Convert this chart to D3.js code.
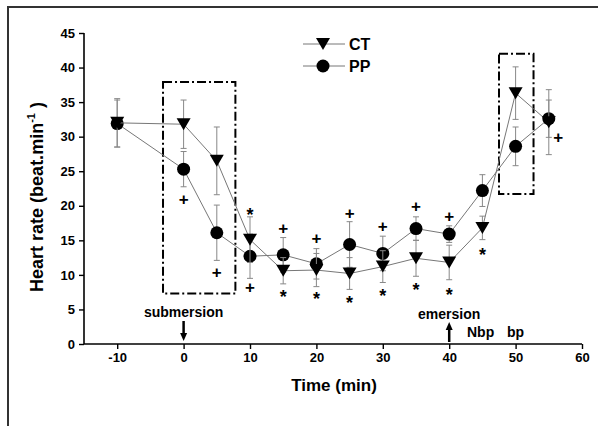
<!DOCTYPE html>
<html>
<head>
<meta charset="utf-8">
<script src="https://cdn.jsdelivr.net/npm/d3@7"></script>
<style>
  body { margin: 0; background: #fff; }
  text { font-family: "Liberation Sans", Arial, sans-serif; font-weight: bold; }
</style>
</head>
<body>
<div id="chart"></div>
<script>
// time points (min)
var times = [-10, 0, 5, 10, 15, 20, 25, 30, 35, 40, 45, 50, 55];

// heart rate, mean and error
var ctMean = [32.0, 31.8, 26.5, 15.1, 10.6, 10.7, 10.2, 11.2, 12.4, 11.8, 16.8, 36.3, 32.1];
var ctErr  = [3.5, 3.5, 4.9, 3.3, 1.9, 2.4, 2.3, 2.3, 2.6, 2.5, 1.7, 3.8, 4.7];
var ppMean = [31.9, 25.3, 16.1, 12.7, 12.9, 11.6, 14.4, 13.1, 16.7, 15.9, 22.2, 28.6, 32.6];
var ppErr  = [3.4, 2.55, 4.0, 3.2, 2.5, 2.2, 3.3, 2.5, 1.7, 1.2, 2.3, 2.8, 2.7];

// significance marks [time, heart rate]
var plusMarks = [[0, 21.0], [5, 10.4], [10, 8.3], [15, 16.8], [20, 15.3], [25, 19.0],
                 [30, 17.0], [35, 20.0], [40, 18.5], [56.4, 29.9]];
var starMarks = [[10, 19.4], [15, 7.5], [20, 7.2], [25, 6.7], [30, 7.7], [35, 8.6],
                 [40, 7.9], [45, 13.6]];

// dash-dot boxes [t0, t1, hr0, hr1]
var boxes = [[-3.1, 7.8, 7.3, 37.9], [47.5, 52.7, 21.7, 42.0]];

var xTicks = [-10, 0, 10, 20, 30, 40, 50, 60];
var yTicks = [0, 5, 10, 15, 20, 25, 30, 35, 40, 45];

var W = 598, H = 426;

var svg = d3.select("#chart").append("svg")
    .attr("width", W)
    .attr("height", H);

svg.append("rect").attr("width", W).attr("height", H).attr("fill", "#fff");

// outer frame (only top and left inside the picture)
svg.append("path")
    .attr("d", "M8," + H + "V7H" + W)
    .attr("fill", "none")
    .attr("stroke", "#333")
    .attr("stroke-width", 2);

var x = d3.scaleLinear().domain([-15, 60]).range([84, 582]);
var y = d3.scaleLinear().domain([0, 45]).range([344, 33]);

// x axis
var xAxis = svg.append("g")
    .attr("transform", "translate(0," + y(0) + ")");
xAxis.call(d3.axisBottom(x).tickValues(d3.range(-15, 61, 5)).tickSize(3).tickFormat(""));
xAxis.call(d3.axisBottom(x).tickValues(xTicks).tickSize(5).tickPadding(4).tickFormat(String))
    .selectAll("text").attr("font-size", 13).attr("fill", "#000");
xAxis.selectAll("path").attr("stroke", "#000").attr("stroke-width", 1.6);
xAxis.selectAll("line").attr("stroke", "#000").attr("stroke-width", 1.4);

// y axis
var yAxis = svg.append("g")
    .attr("transform", "translate(" + x(-15) + ",0)");
yAxis.call(d3.axisLeft(y).tickValues(d3.range(0, 45.1, 2.5)).tickSize(3).tickFormat(""));
yAxis.call(d3.axisLeft(y).tickValues(yTicks).tickSize(5).tickPadding(4).tickFormat(String))
    .selectAll("text").attr("font-size", 13).attr("fill", "#000");
yAxis.selectAll("path").attr("stroke", "#000").attr("stroke-width", 1.6);
yAxis.selectAll("line").attr("stroke", "#000").attr("stroke-width", 1.4);
yAxis.selectAll(".domain").attr("d", "M-0,344V33");
xAxis.selectAll(".domain").attr("d", "M84,0H582");

// axis titles
svg.append("text")
    .attr("x", 334).attr("y", 391)
    .attr("text-anchor", "middle")
    .attr("font-size", 17)
    .text("Time (min)");

var yl = svg.append("text")
    .attr("transform", "translate(43,197) rotate(-90)")
    .attr("text-anchor", "middle")
    .attr("font-size", 18);
yl.append("tspan").text("Heart rate (beat.min");
yl.append("tspan").attr("font-size", 11).attr("dy", -8).text("-1");
yl.append("tspan").attr("dy", 8).text(" )");

// dash-dot boxes
svg.selectAll(".box").data(boxes).enter().append("rect")
    .attr("class", "box")
    .attr("x", function (d) { return x(d[0]); })
    .attr("y", function (d) { return y(d[3]); })
    .attr("width", function (d) { return x(d[1]) - x(d[0]); })
    .attr("height", function (d) { return y(d[2]) - y(d[3]); })
    .attr("fill", "none")
    .attr("stroke", "#000")
    .attr("stroke-width", 2)
    .attr("stroke-dasharray", "9,3,2,3");

function series(mean, err, shape) {
    var pts = times.map(function (t, i) { return { t: t, v: mean[i], e: err[i] }; });
    var g = svg.append("g");

    g.append("path")
        .datum(pts)
        .attr("fill", "none")
        .attr("stroke", "#777")
        .attr("stroke-width", 1)
        .attr("d", d3.line().x(function (d) { return x(d.t); }).y(function (d) { return y(d.v); }));

    var eb = g.selectAll(".err").data(pts).enter().append("g")
        .attr("stroke", "#888")
        .attr("stroke-width", 1);
    eb.append("line")
        .attr("x1", function (d) { return x(d.t); }).attr("x2", function (d) { return x(d.t); })
        .attr("y1", function (d) { return y(d.v + d.e); }).attr("y2", function (d) { return y(d.v - d.e); });
    [1, -1].forEach(function (s) {
        eb.append("line")
            .attr("x1", function (d) { return x(d.t) - 3; }).attr("x2", function (d) { return x(d.t) + 3; })
            .attr("y1", function (d) { return y(d.v + s * d.e); }).attr("y2", function (d) { return y(d.v + s * d.e); });
    });

    g.selectAll(".mk").data(pts).enter().append("path")
        .attr("transform", function (d) { return "translate(" + x(d.t) + "," + y(d.v) + ")"; })
        .attr("d", shape)
        .attr("fill", "#000");
}

var triangle = "M-7,-6L7,-6L0,6Z";
var circle = d3.symbol().type(d3.symbolCircle).size(Math.PI * 6.5 * 6.5)();

series(ppMean, ppErr, circle);
series(ctMean, ctErr, triangle);

// significance marks
svg.selectAll(".plus").data(plusMarks).enter().append("text")
    .attr("x", function (d) { return x(d[0]); })
    .attr("y", function (d) { return y(d[1]); })
    .attr("dy", "0.35em")
    .attr("text-anchor", "middle")
    .attr("font-size", 17)
    .text("+");
svg.selectAll(".star").data(starMarks).enter().append("text")
    .attr("x", function (d) { return x(d[0]); })
    .attr("y", function (d) { return y(d[1]); })
    .attr("dy", "0.62em")
    .attr("text-anchor", "middle")
    .attr("font-size", 18)
    .text("*");

// legend
var legend = [["CT", triangle, 44], ["PP", circle, 66]];
legend.forEach(function (l) {
    svg.append("line")
        .attr("x1", 303).attr("x2", 345).attr("y1", l[2]).attr("y2", l[2])
        .attr("stroke", "#777").attr("stroke-width", 1);
    svg.append("path")
        .attr("transform", "translate(323," + l[2] + ")")
        .attr("d", l[1]).attr("fill", "#000");
    svg.append("text")
        .attr("x", 349).attr("y", l[2] + 6)
        .attr("font-size", 16)
        .text(l[0]);
});

// event annotations
svg.append("text").attr("x", x(0)).attr("y", 317).attr("text-anchor", "middle")
    .attr("font-size", 14).text("submersion");
svg.append("text").attr("x", x(40)).attr("y", 319).attr("text-anchor", "middle")
    .attr("font-size", 14).text("emersion");
svg.append("text").attr("x", 467).attr("y", 337).attr("font-size", 14).text("Nbp");
svg.append("text").attr("x", 507).attr("y", 337).attr("font-size", 14).text("bp");

function arrow(t, yFrom, yTo) {
    var dir = yTo > yFrom ? 1 : -1;
    svg.append("line")
        .attr("x1", x(t)).attr("x2", x(t))
        .attr("y1", yFrom).attr("y2", yTo - dir * 6)
        .attr("stroke", "#000").attr("stroke-width", 2.5);
    svg.append("path")
        .attr("d", "M" + (x(t) - 3.5) + "," + (yTo - dir * 8) + "L" + (x(t) + 3.5) + "," + (yTo - dir * 8) +
            "L" + x(t) + "," + yTo + "Z")
        .attr("fill", "#000");
}
arrow(0, 321, 341);
arrow(40, 342, 322);
</script>
</body>
</html>
